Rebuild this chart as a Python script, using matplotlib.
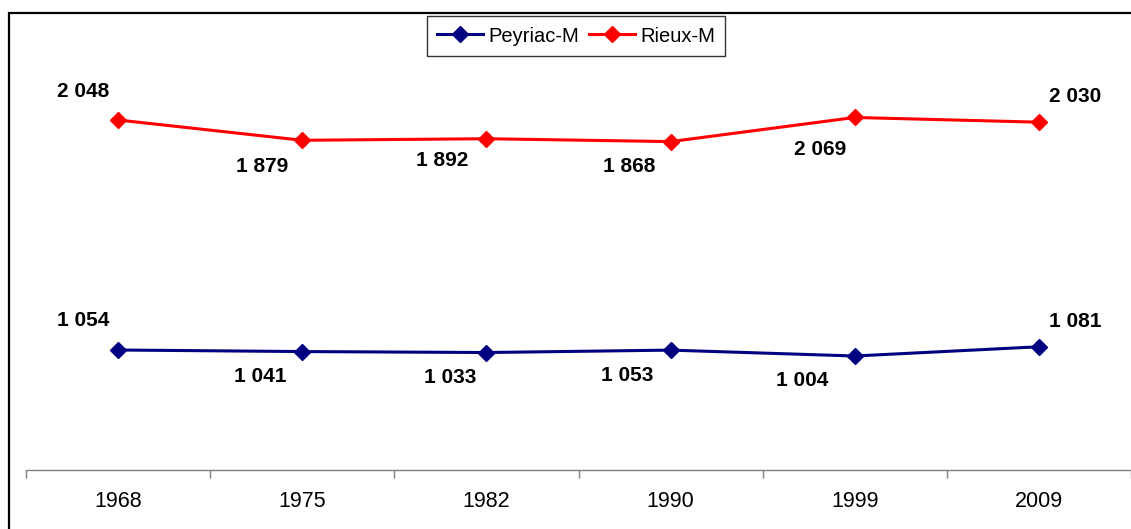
import numpy as np
import matplotlib
matplotlib.use("Agg")
import matplotlib.pyplot as plt
from matplotlib import patches

# ===============================================================================

years = ["1968", "1975", "1982", "1990", "1999", "2009"]
peyriac = [1054, 1041, 1033, 1053, 1004, 1081]
rieux = [2048, 1879, 1892, 1868, 2069, 2030]

# label offsets in pixels (dx, dy) from each point
peyriacOffsets = [(-35, 29), (-42, -25), (-36, -25), (-43, -25), (-53, -24), (36, 25)]
rieuxOffsets = [(-35, 28), (-40, -26), (-44, -22), (-41, -25), (-35, -32), (36, 26)]

# ===============================================================================

plt.rcParams['font.family'] = ['Liberation Sans', 'DejaVu Sans']

W, H = 1131, 529
fig = plt.figure(figsize=(W/100, H/100), dpi=100)
fig.patch.set_facecolor('white')

left = 26/W
right = 1131/W
bottom = 1 - 470/H
top = 1 - 12.7/H
ax = fig.add_axes([left, bottom, right-left, top-bottom])
ax2 = ax.twinx()

x = np.arange(len(years))

def fmt(v):
    return "{:,}".format(v).replace(",", " ")

def drawSeries(a, vals, offs, clr, name):
    ln, = a.plot(x, vals, color=clr, lw=2.2, marker='D', ms=8.5, mec=clr, mfc=clr, label=name)
    for xi, v, (dx, dy) in zip(x, vals, offs):
        a.annotate(fmt(v), (xi, v), xytext=(dx, dy), textcoords='offset pixels',
                   ha='center', va='center', fontsize=15, fontweight='bold', color='black')
    return ln

l1 = drawSeries(ax, peyriac, peyriacOffsets, '#000080', 'Peyriac-M')
l2 = drawSeries(ax2, rieux, rieuxOffsets, '#FF0000', 'Rieux-M')

# ===============================================================================

k = 0.12  # px per unit
hpx = 470 - 12.7
ymin1 = peyriac[0] - (470 - 350)/k
ax.set_ylim(ymin1, ymin1 + hpx/k)
ymin2 = rieux[0] - (470 - 120)/k
ax2.set_ylim(ymin2, ymin2 + hpx/k)

for a in (ax, ax2):
    for s in ['top', 'left', 'right']:
        a.spines[s].set_visible(False)
    a.set_yticks([])
    a.patch.set_visible(False)
ax2.spines['bottom'].set_visible(False)

ax.set_xlim(-0.5, len(years) - 0.5)
ax.spines['bottom'].set_color('#808080')
ax.spines['bottom'].set_linewidth(1.0)
ax.set_xticks(np.arange(-0.5, len(years), 1.0))
ax.set_xticklabels([])
ax.tick_params(axis='x', which='major', length=6, width=1.0, color='#808080', direction='out')
ax.set_xticks(x, minor=True)
ax.set_xticklabels(years, minor=True)
ax.tick_params(axis='x', which='minor', length=0, pad=15, labelsize=15.5)
ax2.tick_params(axis='x', which='both', length=0, labelbottom=False)

leg = ax2.legend([l1, l2], ['Peyriac-M', 'Rieux-M'], loc='center',
                 bbox_to_anchor=(576/W, 1 - 36/H), bbox_transform=fig.transFigure,
                 ncol=2, frameon=True, fancybox=False, shadow=False, fontsize=14.5,
                 handlelength=2.3, handletextpad=0.25, columnspacing=0.5,
                 borderpad=0.5, borderaxespad=0)
leg.get_frame().set_edgecolor('black')
leg.get_frame().set_linewidth(1.0)

# outer frame
fig.patches.append(patches.Rectangle((9/W, -0.1), 1.2, 1.1 - 12.7/H, transform=fig.transFigure,
                                     fill=False, ec='black', lw=1.6))

plt.savefig('out.png', dpi=100)
plt.close()
